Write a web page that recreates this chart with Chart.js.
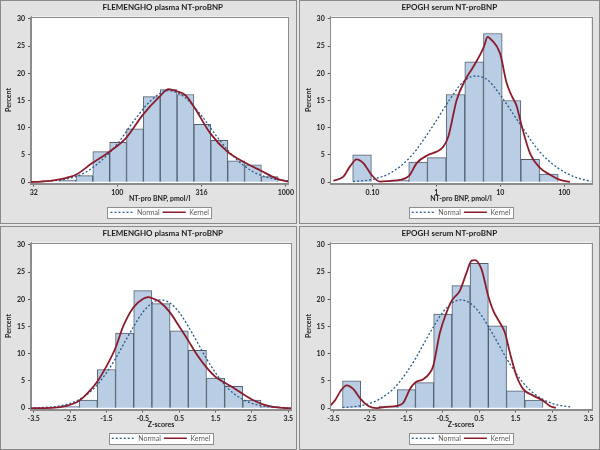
<!DOCTYPE html>
<html>
<head>
<meta charset="utf-8">
<script src="https://cdn.jsdelivr.net/npm/chart.js@4.4.1/dist/chart.umd.min.js"></script>
<style>
html,body{margin:0;padding:0;}
body{width:600px;height:450px;background:#e6e6e6;position:relative;overflow:hidden;}
.panel{position:absolute;box-sizing:border-box;border:1px solid #8a8a8a;background:#e2e2e2;overflow:hidden;}
.panel canvas{display:block;}
</style>
</head>
<body>
<div class="panel" style="left:0;top:0;width:297px;height:224px"><canvas id="c1" width="295" height="222"></canvas></div>
<div class="panel" style="left:299px;top:0;width:301px;height:224px"><canvas id="c2" width="299" height="222"></canvas></div>
<div class="panel" style="left:0;top:226px;width:297px;height:224px"><canvas id="c3" width="295" height="222"></canvas></div>
<div class="panel" style="left:299px;top:226px;width:301px;height:224px"><canvas id="c4" width="299" height="222"></canvas></div>
<script>
// ---------- shared ----------
const yTickValues = [0, 5, 10, 15, 20, 25, 30];
const legendLabels = ['Normal', 'Kernel'];
const yTitle = 'Percent';

// ---------- panel 1: FLEMENGHO plasma, log axis (pmol/l) ----------
const p1Title = 'FLEMENGHO plasma NT-proBNP';
const p1XTitle = 'NT-pro BNP, pmol/l';
const p1XRange = [30.8, 1037];
const p1Ticks = [32, 100, 316, 1000];
const p1TickLabels = ['32', '100', '316', '1000'];
const p1BinCenters = [50.7, 63.8, 80.4, 101.2, 127.4, 160.3, 201.8, 254.1, 319.9, 402.7, 507.0, 638.3, 803.5];
const p1Percent = [0.4, 1.2, 5.6, 7.3, 9.8, 15.7, 17.0, 16.1, 10.6, 7.7, 3.9, 3.2, 1.0];
const p1NormalX = [30.9, 39.8, 50.1, 63.1, 79.4, 100, 125.9, 158.5, 199.5, 251.2, 316.2, 398.1, 501.2, 631.0, 794.3, 1037];
const p1NormalY = [0.05, 0.2, 0.6, 1.6, 3.8, 7.0, 11.3, 15.0, 16.8, 15.6, 12.2, 8.0, 4.4, 2.0, 0.8, 0.2];
const p1KernelX = [30.8, 35.0, 40.0, 45.4, 50.1, 56.9, 71.1, 89.9, 112.7, 142.2, 178.2, 201.8, 224.9, 252.9, 284.4, 355.6, 449.8, 563.6, 711.2, 891.3, 1037];
const p1KernelY = [0.0, 0.1, 0.25, 0.5, 0.8, 1.35, 3.5, 5.6, 8.1, 12.4, 15.7, 17.1, 16.7, 16.0, 13.9, 9.0, 5.6, 3.7, 2.1, 0.6, 0.1];

// ---------- panel 2: EPOGH serum, log axis (pmol/l) ----------
const p2Title = 'EPOGH serum NT-proBNP';
const p2XTitle = 'NT-pro BNP, pmol/l';
const p2XRange = [0.02234, 264.2];
const p2Ticks = [0.1, 1, 10, 100];
const p2TickLabels = ['0.10', '1', '10', '100'];
const p2BinCenters = [0.0690, 0.1352, 0.2649, 0.5188, 1.016, 1.991, 3.899, 7.638, 14.96, 29.31, 57.41];
const p2Percent = [5.0, 0, 0.4, 3.7, 4.5, 16.1, 22.1, 27.3, 15.0, 4.2, 1.5];
const p2NormalX = [0.0501, 0.1, 0.1995, 0.3981, 0.7943, 1.585, 2.512, 3.981, 6.310, 10, 19.95, 39.81, 79.43, 158.5, 263.0];
const p2NormalY = [0.1, 0.5, 1.8, 4.7, 9.5, 15.0, 18.2, 19.5, 18.8, 16.0, 10.8, 5.8, 2.6, 0.8, 0.15];
const p2KernelX = [0.0246, 0.0352, 0.0448, 0.0569, 0.0723, 0.0977, 0.1318, 0.1932, 0.2704, 0.3784, 0.4932, 0.7413, 1.012, 1.285, 1.542, 2.080, 2.838, 3.784, 5.559, 6.310, 7.328, 9.886, 12.56, 15.14, 17.99, 21.38, 29.11, 41.69, 59.70, 85.51, 122.7];
const p2KernelY = [0.25, 1.0, 2.9, 4.2, 3.5, 1.3, 0.1, 0.25, 0.4, 1.2, 3.5, 5.0, 5.6, 6.5, 8.4, 15.1, 18.8, 21.2, 24.9, 26.7, 26.1, 23.7, 18.2, 15.8, 14.0, 10.5, 5.3, 2.6, 1.35, 0.4, 0.05];

// ---------- panels 3 & 4: Z-scores ----------
const zXTitle = 'Z-scores';
const zXRange = [-3.575, 3.575];
const zTicks = [-3.5, -2.5, -1.5, -0.5, 0.5, 1.5, 2.5, 3.5];
const zTickLabels = ['-3.5', '-2.5', '-1.5', '-0.5', '0.5', '1.5', '2.5', '3.5'];

const p3Title = 'FLEMENGHO plasma NT-proBNP';
const p3BinCenters = [-2.5, -2.0, -1.5, -1.0, -0.5, 0, 0.5, 1.0, 1.5, 2.0, 2.5, 3.0];
const p3Percent = [0.3, 1.5, 7.1, 13.8, 21.6, 19.2, 14.2, 10.6, 5.5, 4.0, 1.5, 0.3];
const p3NormalX = [-3.5, -3.0, -2.75, -2.5, -2.25, -2.0, -1.75, -1.5, -1.25, -1.0, -0.75, -0.5, -0.25, 0, 0.25, 0.5, 0.75, 1.0, 1.25, 1.5, 1.75, 2.0, 2.25, 2.5, 2.75, 3.0, 3.5];
const p3NormalY = [0.04, 0.22, 0.45, 0.87, 1.6, 2.7, 4.3, 6.5, 9.1, 12.1, 15.0, 17.6, 19.3, 19.9, 19.3, 17.6, 15.0, 12.1, 9.1, 6.5, 4.3, 2.7, 1.6, 0.87, 0.45, 0.22, 0.04];
const p3KernelX = [-3.575, -3.0, -2.6, -2.25, -2.04, -1.77, -1.49, -1.25, -1.035, -0.76, -0.49, -0.35, -0.21, -0.03, 0.245, 0.52, 0.75, 0.98, 1.25, 1.525, 1.745, 1.98, 2.255, 2.53, 2.8, 3.08, 3.35, 3.575];
const p3KernelY = [0, 0.05, 0.4, 1.35, 2.6, 4.7, 7.8, 11.1, 15.1, 18.5, 20.1, 20.4, 20.1, 19.5, 17.6, 14.8, 12.4, 9.9, 7.5, 5.6, 4.7, 3.8, 2.6, 1.5, 0.7, 0.25, 0.06, 0];

const p4Title = 'EPOGH serum NT-proBNP';
const p4BinCenters = [-3.0, -2.5, -2.0, -1.5, -1.0, -0.5, 0, 0.5, 1.0, 1.5, 2.0];
const p4Percent = [5.0, 0, 0.4, 3.4, 4.7, 17.3, 22.5, 26.6, 15.1, 3.2, 1.5];
const p4NormalX = [-3.25, -3.0, -2.75, -2.5, -2.25, -2.0, -1.75, -1.5, -1.25, -1.0, -0.75, -0.5, -0.25, 0, 0.25, 0.5, 0.75, 1.0, 1.25, 1.5, 1.75, 2.0, 2.25, 2.5, 2.75, 3.0];
const p4NormalY = [0.1, 0.22, 0.45, 0.87, 1.6, 2.7, 4.3, 6.5, 9.1, 12.1, 15.0, 17.6, 19.3, 19.9, 19.3, 17.6, 15.0, 12.1, 9.1, 6.5, 4.3, 2.7, 1.6, 0.87, 0.45, 0.22];
const p4KernelX = [-3.575, -3.45, -3.3, -3.136, -2.953, -2.752, -2.542, -2.313, -2.04, -1.766, -1.583, -1.4, -1.254, -1.035, -0.852, -0.761, -0.578, -0.395, -0.258, -0.03, 0.153, 0.29, 0.381, 0.564, 0.747, 0.884, 1.067, 1.204, 1.341, 1.524, 1.707, 1.982, 2.256, 2.439, 2.6];
const p4KernelY = [0.5, 1.5, 3.2, 4.2, 3.5, 1.65, 0.4, 0.0, 0.25, 0.4, 1.0, 3.5, 4.7, 5.3, 6.5, 7.8, 13.9, 17.6, 19.7, 21.6, 24.9, 27.1, 27.2, 25.5, 20.6, 17.9, 15.7, 13.9, 10.2, 5.9, 3.5, 2.3, 1.35, 0.4, 0.05];

// ---------- drawing ----------
const FONT = "Lato, 'Open Sans', sans-serif";
const pts = (xs, ys) => xs.map((x, i) => ({x: x, y: ys[i]}));

const panelPlugin = {
  id: 'panelPlugin',
  afterLayout(chart, args, opts) {
    const ca = chart.chartArea;
    const lg = chart.legend;
    if (lg) {
      const dx = (ca.left + ca.right) / 2 - (lg.left + lg.right) / 2;
      lg.left += dx; lg.right += dx;
      lg.top += opts.legendDy; lg.bottom += opts.legendDy;
    }
    const t = chart.titleBlock;
    if (t) { const w = t.right - t.left; t.left = opts.titleLeft; t.right = t.left + w; }
  },
  beforeDraw(chart) {
    const {ctx, chartArea: ca} = chart;
    ctx.save();
    ctx.fillStyle = '#ffffff';
    ctx.fillRect(ca.left, ca.top, ca.right - ca.left, ca.bottom - ca.top);
    const hb = chart.legend && chart.legend.legendHitBoxes;
    if (hb && hb.length) {
      let l = Infinity, r = -Infinity, t = Infinity, b = -Infinity;
      hb.forEach(h => { l = Math.min(l, h.left); r = Math.max(r, h.left + h.width); t = Math.min(t, h.top); b = Math.max(b, h.top + h.height); });
      const x0 = Math.round(l - 3) + 0.5, y0 = Math.round(t - 2) + 0.5;
      const w = Math.round(r - l + 5), h = Math.round(b - t + 4);
      ctx.fillStyle = '#ffffff';
      ctx.fillRect(x0, y0, w, h);
      ctx.strokeStyle = '#8e8e8e';
      ctx.lineWidth = 1;
      ctx.strokeRect(x0, y0, w, h);
    }
    ctx.restore();
  },
  afterDatasetsDraw(chart) {
    const {ctx, chartArea: ca} = chart;
    ctx.save();
    ctx.strokeStyle = '#8c8c8c';
    ctx.lineWidth = 1;
    ctx.strokeRect(Math.round(ca.left) - 0.5, Math.round(ca.top) + 0.5, Math.round(ca.right - ca.left) + 1, Math.round(ca.bottom - ca.top));
    ctx.restore();
  }
};

function legendItems(chart) {
  const items = Chart.defaults.plugins.legend.labels.generateLabels(chart);
  items.forEach(it => {
    const ds = chart.data.datasets[it.datasetIndex];
    it.lineDash = ds.borderDash || [];
    it.lineWidth = ds.type === 'line' ? Math.min(ds.borderWidth, 1.5) : 1;
    it.strokeStyle = ds.borderColor;
  });
  return items;
}

function makePanel(id, o) {
  const tickFont = {family: FONT, size: 7, weight: 'bold'};
  return new Chart(document.getElementById(id), {
    type: 'bar',
    data: {
      datasets: [
        {type: 'bar', label: 'Histogram', data: pts(o.bins, o.pct), backgroundColor: '#b9cde5', borderColor: '#53616f', borderWidth: 1, barPercentage: 1, categoryPercentage: 1, order: 3},
        {type: 'line', label: legendLabels[0], data: pts(o.nx, o.ny), borderColor: '#2b5a8a', backgroundColor: '#2b5a8a', borderDash: [2, 2], borderWidth: 1.3, pointRadius: 0, cubicInterpolationMode: 'monotone', order: 2},
        {type: 'line', label: legendLabels[1], data: pts(o.kx, o.ky), borderColor: '#8a1c2c', backgroundColor: '#8a1c2c', borderWidth: 1.8, pointRadius: 0, cubicInterpolationMode: 'monotone', order: 1}
      ]
    },
    options: {
      responsive: false,
      animation: false,
      events: [],
      layout: {padding: {left: o.padL, right: o.padR, top: 0, bottom: 0}},
      plugins: {
        panelPlugin: {legendDy: 2.8, titleLeft: o.titleLeft},
        title: {display: true, text: o.title, align: 'start', color: '#1e1e1e', font: {family: FONT, size: 8, weight: 'bold'}, padding: {top: 1.5, bottom: 4.4}},
        legend: {
          position: 'bottom',
          labels: {
            generateLabels: legendItems,
            filter: item => item.datasetIndex > 0,
            sort: (a, b) => a.datasetIndex - b.datasetIndex,
            usePointStyle: true, pointStyle: 'line', pointStyleWidth: 23, boxHeight: 7,
            color: '#5a5a5a', font: {family: FONT, size: 7}, padding: 3
          }
        },
        tooltip: {enabled: false}
      },
      scales: {
        x: {
          type: o.xType, min: o.xRange[0], max: o.xRange[1], offset: false,
          afterBuildTicks: s => { s.ticks = o.ticks.map(v => ({value: v})); },
          afterFit: s => { s.height = 19.5; },
          ticks: {callback: (v, i) => o.tickLabels[i], autoSkip: false, maxRotation: 0, minRotation: 0, padding: 2, color: '#222', font: tickFont},
          grid: {display: true, offset: false, drawOnChartArea: false, tickLength: 3, color: '#555'},
          border: {display: true, color: '#8c8c8c'},
          title: {display: true, text: o.xTitle, color: '#222', font: {family: FONT, size: 7, weight: 'bold'}, padding: {top: 0, bottom: 0}}
        },
        y: {
          type: 'linear', min: -0.25, max: 30.43,
          afterBuildTicks: s => { s.ticks = yTickValues.map(v => ({value: v})); },
          afterFit: s => { s.width = 30; },
          ticks: {padding: 3, color: '#222', font: tickFont},
          grid: {display: true, drawOnChartArea: false, tickLength: 3, color: '#555'},
          border: {display: true, color: '#8c8c8c'},
          title: {display: true, text: yTitle, color: '#222', font: {family: FONT, size: 7, weight: 'bold'}, padding: {top: 4, bottom: 0}}
        }
      }
    },
    plugins: [panelPlugin]
  });
}

makePanel('c1', {title: p1Title, xTitle: p1XTitle, xType: 'logarithmic', xRange: p1XRange, ticks: p1Ticks, tickLabels: p1TickLabels,
  bins: p1BinCenters, pct: p1Percent, nx: p1NormalX, ny: p1NormalY, kx: p1KernelX, ky: p1KernelY, padL: 0, padR: 5, titleLeft: 101.5});
makePanel('c2', {title: p2Title, xTitle: p2XTitle, xType: 'logarithmic', xRange: p2XRange, ticks: p2Ticks, tickLabels: p2TickLabels,
  bins: p2BinCenters, pct: p2Percent, nx: p2NormalX, ny: p2NormalY, kx: p2KernelX, ky: p2KernelY, padL: 0.7, padR: 7.7, titleLeft: 101.5});
makePanel('c3', {title: p3Title, xTitle: zXTitle, xType: 'linear', xRange: zXRange, ticks: zTicks, tickLabels: zTickLabels,
  bins: p3BinCenters, pct: p3Percent, nx: p3NormalX, ny: p3NormalY, kx: p3KernelX, ky: p3KernelY, padL: 0, padR: 5, titleLeft: 101.5});
makePanel('c4', {title: p4Title, xTitle: zXTitle, xType: 'linear', xRange: zXRange, ticks: zTicks, tickLabels: zTickLabels,
  bins: p4BinCenters, pct: p4Percent, nx: p4NormalX, ny: p4NormalY, kx: p4KernelX, ky: p4KernelY, padL: 0.7, padR: 7.7, titleLeft: 101.5});
</script>
</body>
</html>
